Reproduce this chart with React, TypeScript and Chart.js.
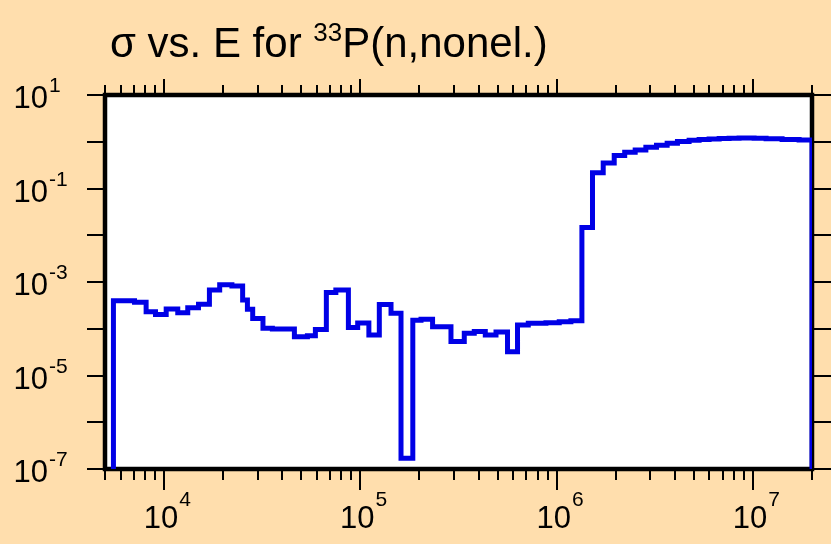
import React, { useEffect, useRef } from 'react';
import { Chart, registerables } from 'chart.js';

Chart.register(...registerables);

// Left bin edges of the histogram (eV) and the cross section in each bin (b)
const energyEdges = [
  5.52e3, 7.07e3, 8.10e3, 9.04e3, 1.025e4, 1.174e4, 1.32e4, 1.497e4, 1.702e4, 1.92e4,
  2.216e4, 2.513e4, 2.658e4, 2.828e4, 3.19e4, 3.562e4, 4.612e4, 5.373e4, 5.9e4, 6.71e4,
  7.5e4, 8.69e4, 9.69e4, 1.105e5, 1.249e5, 1.433e5, 1.611e5, 1.85e5, 2.037e5, 2.333e5,
  2.895e5, 3.384e5, 3.805e5, 4.33e5, 4.91e5, 5.62e5, 6.32e5, 7.17e5, 8.82e5, 1.031e6,
  1.182e6, 1.345e6, 1.523e6, 1.727e6, 1.965e6, 2.222e6, 2.513e6, 2.848e6, 3.226e6, 3.656e6,
  4.126e6, 4.73e6, 5.32e6, 5.98e6, 6.73e6, 7.56e6, 8.5e6, 1.014e7, 1.167e7, 1.408e7,
  1.719e7,
];
const crossSection = [
  3.98e-4, 3.68e-4, 2.32e-4, 2.02e-4, 2.64e-4, 2.2e-4, 2.81e-4, 3.35e-4, 6.74e-4, 8.71e-4,
  8.2e-4, 4.12e-4, 2.62e-4, 1.66e-4, 1.02e-4, 9.9e-5, 6.76e-5, 7.06e-5, 9.64e-5, 5.96e-4,
  6.74e-4, 1.06e-4, 1.33e-4, 7.35e-5, 3.3e-4, 2.14e-4, 1.69e-7, 1.52e-4, 1.59e-4, 1.11e-4,
  5.33e-5, 8.0e-5, 8.73e-5, 7.35e-5, 8.51e-5, 3.23e-5, 1.2e-4, 1.31e-4, 1.35e-4, 1.42e-4,
  1.49e-4, 1.47e-2, 0.218, 0.351, 0.508, 0.598, 0.666, 0.761, 0.844, 0.931,
  1.007, 1.074, 1.117, 1.145, 1.174, 1.191, 1.203, 1.191, 1.156, 1.117,
  1.09,
];

const energyMin = 5e3;
const energyMax = 2e7;
const sigmaMin = 1e-7;
const sigmaMax = 10;

const xMajorExponents = [4, 5, 6, 7];
const yMajorExponents = [1, 0, -1, -2, -3, -4, -5, -6, -7];
const yLabelExponents = [1, -1, -3, -5, -7];

const titleMain = 'σ vs. E for ';
const titleSup = '33';
const titleRest = 'P(n,nonel.)';

const FONT = '"Liberation Sans", Arial, sans-serif';
const BG = '#FFDEAD';

export default function App() {
  const canvasRef = useRef<HTMLCanvasElement>(null);

  useEffect(() => {
    const canvas = canvasRef.current;
    if (!canvas) return;

    const points: { x: number; y: number }[] = [{ x: energyEdges[0], y: sigmaMin }];
    energyEdges.forEach((e, i) => points.push({ x: e, y: crossSection[i] }));
    points.push({ x: energyMax, y: crossSection[crossSection.length - 1] });
    points.push({ x: energyMax, y: sigmaMin });

    const minorEnergies: number[] = [];
    for (let p = 3; p <= 7; p++) {
      for (let m = 1; m <= 9; m++) {
        const v = m * Math.pow(10, p);
        if (m !== 1 && v >= energyMin * 0.999 && v <= energyMax * 1.001) minorEnergies.push(v);
      }
    }

    const deco = {
      id: 'deco',
      beforeDraw(chart: any) {
        const { ctx, chartArea } = chart;
        ctx.save();
        ctx.fillStyle = BG;
        ctx.fillRect(0, 0, chart.width, chart.height);
        ctx.fillStyle = '#FFFFFF';
        ctx.fillRect(chartArea.left, chartArea.top, chartArea.right - chartArea.left, chartArea.bottom - chartArea.top);
        // title
        ctx.fillStyle = '#000';
        ctx.textBaseline = 'alphabetic';
        ctx.textAlign = 'left';
        ctx.font = `42px ${FONT}`;
        let tx = 110;
        const ty = 57;
        ctx.fillText(titleMain, tx, ty);
        tx += ctx.measureText(titleMain).width;
        ctx.font = `26px ${FONT}`;
        ctx.fillText(titleSup, tx, ty - 16);
        tx += ctx.measureText(titleSup).width;
        ctx.font = `42px ${FONT}`;
        ctx.fillText(titleRest, tx, ty);
        ctx.restore();
      },
      beforeDatasetsDraw(chart: any) {
        const { ctx, chartArea } = chart;
        ctx.save();
        ctx.strokeStyle = '#000';
        ctx.lineWidth = 4.5;
        ctx.strokeRect(chartArea.left, chartArea.top, chartArea.right - chartArea.left, chartArea.bottom - chartArea.top);
        ctx.restore();
      },
      afterDraw(chart: any) {
        const { ctx, chartArea } = chart;
        const xs = chart.scales.x;
        const ys = chart.scales.y;
        ctx.save();
        ctx.strokeStyle = '#000';
        ctx.lineWidth = 2;
        ctx.beginPath();
        const top = chartArea.top - 2;
        const bottom = chartArea.bottom + 2;
        const left = chartArea.left - 2;
        const right = chartArea.right + 2;
        minorEnergies.forEach((v) => {
          const px = Math.round(xs.getPixelForValue(v));
          ctx.moveTo(px, top);
          ctx.lineTo(px, top - 8);
          ctx.moveTo(px, bottom);
          ctx.lineTo(px, bottom + 9);
        });
        xMajorExponents.forEach((e) => {
          const px = Math.round(xs.getPixelForValue(Math.pow(10, e)));
          ctx.moveTo(px, top);
          ctx.lineTo(px, top - 14);
          ctx.moveTo(px, bottom);
          ctx.lineTo(px, bottom + 19);
        });
        yMajorExponents.forEach((e) => {
          const py = Math.round(ys.getPixelForValue(Math.pow(10, e)));
          ctx.moveTo(left, py);
          ctx.lineTo(left - 16, py);
          ctx.moveTo(right, py);
          ctx.lineTo(right + 17, py);
        });
        ctx.stroke();

        ctx.fillStyle = '#000';
        ctx.textBaseline = 'alphabetic';
        // y labels
        yLabelExponents.forEach((e) => {
          const py = ys.getPixelForValue(Math.pow(10, e));
          ctx.font = `31px ${FONT}`;
          ctx.textAlign = 'right';
          ctx.fillText('10', 48, py + 13);
          ctx.font = `21px ${FONT}`;
          ctx.textAlign = 'left';
          ctx.fillText(e < 0 ? '-' + Math.abs(e) : String(e), 49, py - 3);
        });
        // x labels
        xMajorExponents.forEach((e) => {
          const px = xs.getPixelForValue(Math.pow(10, e));
          ctx.font = `31px ${FONT}`;
          ctx.textAlign = 'center';
          ctx.fillText('10', px - 3, 528);
          const w = ctx.measureText('10').width;
          ctx.font = `21px ${FONT}`;
          ctx.textAlign = 'left';
          ctx.fillText(String(e), px - 3 + w / 2 + 1, 506);
        });
        ctx.restore();
      },
    };

    const chart = new Chart(canvas, {
      type: 'line',
      data: {
        datasets: [
          {
            data: points,
            borderColor: '#0000E6',
            borderWidth: 5,
            stepped: true,
            pointRadius: 0,
            fill: false,
            tension: 0,
          },
        ],
      },
      options: {
        animation: false,
        responsive: false,
        devicePixelRatio: 1,
        layout: { padding: { left: 105, top: 95, right: 19, bottom: 75 } },
        plugins: { legend: { display: false }, tooltip: { enabled: false }, title: { display: false } },
        scales: {
          x: { type: 'logarithmic', min: energyMin, max: energyMax, display: false },
          y: { type: 'logarithmic', min: sigmaMin, max: sigmaMax, display: false },
        },
      },
      plugins: [deco],
    } as any);

    return () => chart.destroy();
  }, []);

  return (
    <div style={{ position: 'fixed', left: 0, top: 0, width: 831, height: 544, background: BG }}>
      <canvas ref={canvasRef} width={831} height={544} style={{ width: 831, height: 544, display: 'block' }} />
    </div>
  );
}
